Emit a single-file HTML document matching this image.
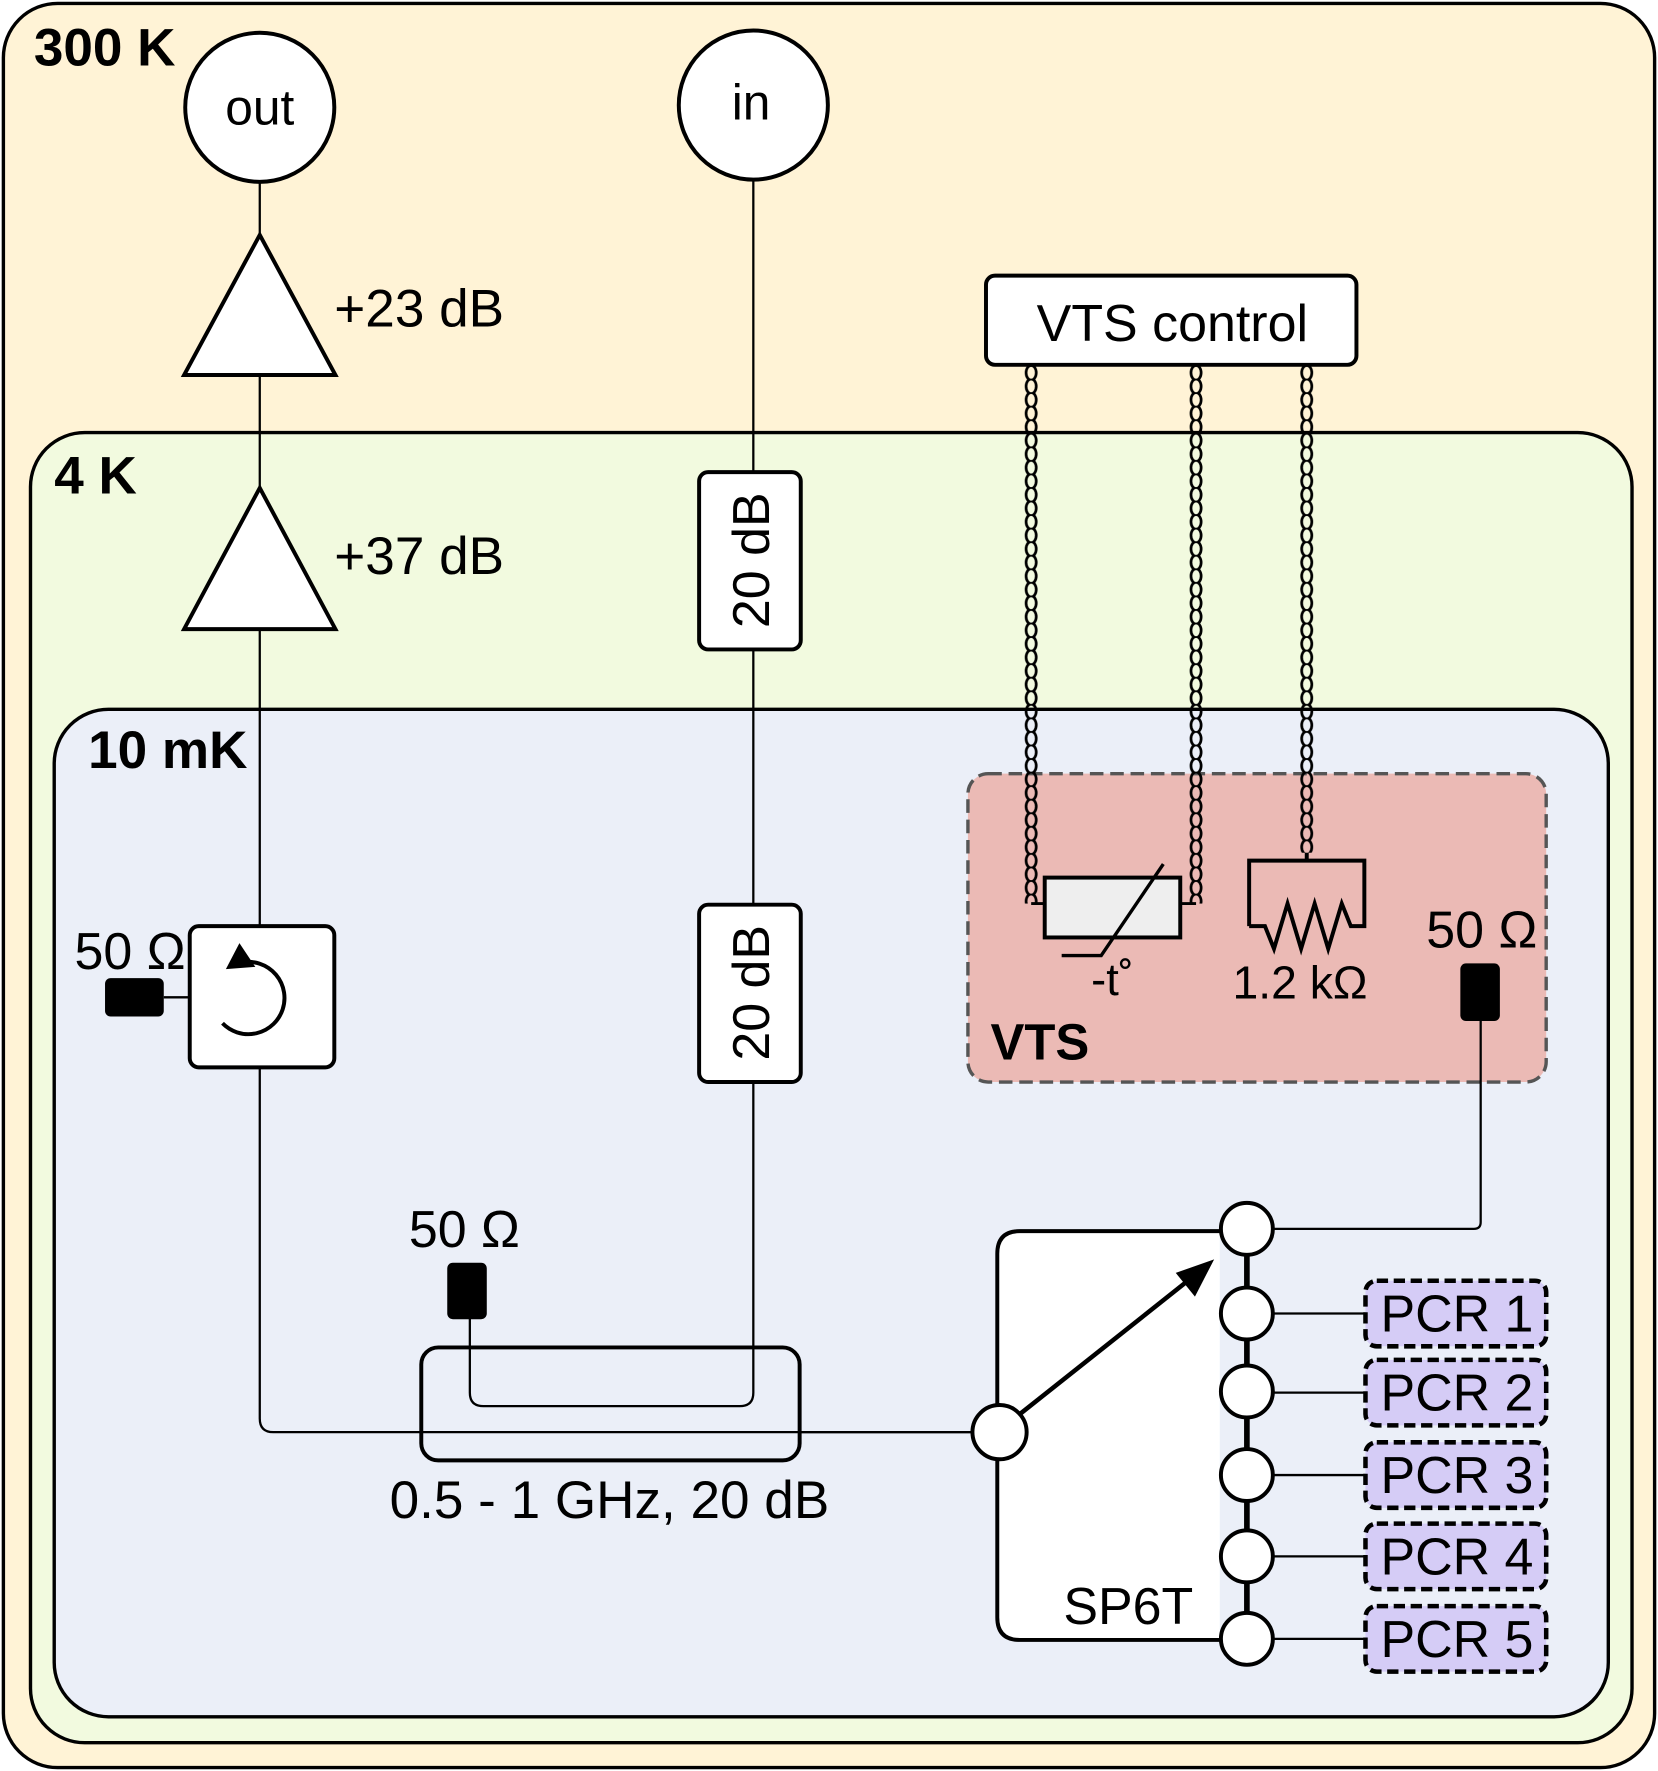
<!DOCTYPE html>
<html><head><meta charset="utf-8"><style>html,body{margin:0;padding:0;background:#fff}svg{display:block}</style></head><body>
<svg width="1658" height="1771" viewBox="0 0 1468 1568" xmlns="http://www.w3.org/2000/svg" font-family="Liberation Sans, sans-serif">
<defs>
<pattern id="tw1" x="906" y="0" width="14" height="12" patternUnits="userSpaceOnUse">
<ellipse cx="7" cy="6" rx="4.5" ry="6.5" fill="none" stroke="#000" stroke-width="2.4"/>
</pattern>
<pattern id="tw2" x="1052" y="0" width="14" height="12" patternUnits="userSpaceOnUse">
<ellipse cx="7" cy="6" rx="4.5" ry="6.5" fill="none" stroke="#000" stroke-width="2.4"/>
</pattern>
<pattern id="tw3" x="1150" y="0" width="14" height="12" patternUnits="userSpaceOnUse">
<ellipse cx="7" cy="6" rx="4.5" ry="6.5" fill="none" stroke="#000" stroke-width="2.4"/>
</pattern>
</defs>
<rect x="3" y="3" width="1462" height="1562" rx="48" fill="#FFF3D6" stroke="#000" stroke-width="3"/>
<rect x="27" y="383" width="1418" height="1160" rx="48" fill="#F2FADF" stroke="#000" stroke-width="3"/>
<rect x="48" y="628" width="1376" height="892" rx="48" fill="#EBEFF8" stroke="#000" stroke-width="3"/>
<g font-weight="bold" font-size="47">
<text x="30" y="58">300 K</text><text x="48" y="437">4 K</text><text x="78" y="680">10 mK</text>
</g>
<path d="M230 161 V1256 Q230 1268 242 1268 H862" fill="none" stroke="#000" stroke-width="2"/>
<circle cx="230" cy="95" r="66" fill="#fff" stroke="#000" stroke-width="3.5"/>
<text x="230" y="110" font-size="44" text-anchor="middle">out</text>
<polygon points="230,208 297,332 163,332" fill="#fff" stroke="#000" stroke-width="3.5"/>
<polygon points="230,432 297,557 163,557" fill="#fff" stroke="#000" stroke-width="3.5"/>
<text x="296" y="289" font-size="47">+23 dB</text>
<text x="296" y="508" font-size="47">+37 dB</text>
<line x1="145" y1="883" x2="168" y2="883" stroke="#000" stroke-width="2"/>
<rect x="93" y="866" width="52" height="34" rx="5" fill="#000"/>
<text x="66" y="858" font-size="46">50 Ω</text>
<rect x="168" y="820" width="128" height="125" rx="8" fill="#fff" stroke="#000" stroke-width="3.5"/>
<path d="M215 852 A32 32 0 1 1 197 906" fill="none" stroke="#000" stroke-width="3.5"/>
<polygon points="200,858 212,835 226,856" fill="#000"/>
<path d="M667 159 V1233 Q667 1245 655 1245 H428 Q416 1245 416 1233 V1165" fill="none" stroke="#000" stroke-width="2"/>
<circle cx="667" cy="93" r="66" fill="#fff" stroke="#000" stroke-width="3.5"/>
<text x="665" y="106" font-size="44" text-anchor="middle">in</text>
<rect x="619" y="418" width="90" height="157" rx="8" fill="#fff" stroke="#000" stroke-width="3.5"/>
<text transform="translate(681,496) rotate(-90)" font-size="46" text-anchor="middle">20 dB</text>
<rect x="619" y="801" width="90" height="157" rx="8" fill="#fff" stroke="#000" stroke-width="3.5"/>
<text transform="translate(681,879) rotate(-90)" font-size="46" text-anchor="middle">20 dB</text>
<rect x="373" y="1193" width="335" height="100" rx="15" fill="none" stroke="#000" stroke-width="3.5"/>
<rect x="396" y="1118" width="35" height="50" rx="5" fill="#000"/>
<text x="362" y="1104" font-size="46">50 Ω</text>
<text x="345" y="1344" font-size="47">0.5 - 1 GHz, 20 dB</text>
<rect x="857" y="685" width="512" height="273" rx="18" fill="#EBBAB5" stroke="#555" stroke-width="3" stroke-dasharray="12,6"/>
<rect x="906" y="323" width="14" height="477" fill="url(#tw1)"/>
<rect x="1052" y="323" width="14" height="477" fill="url(#tw2)"/>
<rect x="1150" y="323" width="14" height="432" fill="url(#tw3)"/>
<rect x="873" y="244" width="328" height="79" rx="8" fill="#fff" stroke="#000" stroke-width="3.5"/>
<text x="1038" y="302" font-size="46" text-anchor="middle">VTS control</text>
<path d="M913 800 H925 M1045 800 H1059" stroke="#000" stroke-width="2.5"/>
<rect x="925" y="777" width="120" height="53" fill="#EEE" stroke="#000" stroke-width="3.5"/>
<path d="M940 846 H975 L1030 765" fill="none" stroke="#000" stroke-width="3"/>
<text x="985" y="881" font-size="40" text-anchor="middle">-t˚</text>
<path d="M1157 755 V762 M1106 820 V762 H1208 V820 H1196 L1188 800 L1176 840 L1164 800 L1152 840 L1140 800 L1128 840 L1120 820 H1106" fill="none" stroke="#000" stroke-width="3.5"/>
<text x="1151" y="884" font-size="41" text-anchor="middle">1.2 kΩ</text>
<text x="1312" y="839" font-size="46" text-anchor="middle">50 Ω</text>
<rect x="1293" y="853" width="35" height="51" rx="5" fill="#000"/>
<path d="M1311 900 V1082 Q1311 1088 1305 1088 H1104" fill="none" stroke="#000" stroke-width="2"/>
<text x="877" y="938" font-size="45" font-weight="bold">VTS</text>
<path d="M1080 1090 H903 Q883 1090 883 1110 V1432 Q883 1452 903 1452 H1080" fill="#fff" stroke="#000" stroke-width="3.5"/>
<line x1="708" y1="1268" x2="862" y2="1268" stroke="#000" stroke-width="2"/>
<line x1="1104" y1="1088" x2="1104" y2="1451" stroke="#000" stroke-width="5"/>
<line x1="903" y1="1252" x2="1058" y2="1129" stroke="#000" stroke-width="4"/>
<polygon points="1075,1115 1041,1127 1058,1148" fill="#000"/>
<text x="999" y="1438" font-size="46" text-anchor="middle">SP6T</text>
<g stroke="#000" stroke-width="2">
<line x1="1104" y1="1163" x2="1209" y2="1163"/><line x1="1104" y1="1233" x2="1209" y2="1233"/>
<line x1="1104" y1="1306" x2="1209" y2="1306"/><line x1="1104" y1="1378" x2="1209" y2="1378"/>
<line x1="1104" y1="1451" x2="1209" y2="1451"/>
</g>
<g fill="#fff" stroke="#000" stroke-width="3.5">
<circle cx="1104" cy="1088" r="23"/><circle cx="1104" cy="1163" r="23"/><circle cx="1104" cy="1232" r="23"/>
<circle cx="1104" cy="1306" r="23"/><circle cx="1104" cy="1378" r="23"/><circle cx="1104" cy="1451" r="23"/>
<circle cx="885" cy="1268" r="24"/>
</g>
<g fill="#D5CCF6" stroke="#000" stroke-width="4" stroke-dasharray="10,5">
<rect x="1209" y="1134" width="160" height="58" rx="10"/><rect x="1209" y="1204" width="160" height="58" rx="10"/>
<rect x="1209" y="1277" width="160" height="58" rx="10"/><rect x="1209" y="1349" width="160" height="58" rx="10"/>
<rect x="1209" y="1422" width="160" height="58" rx="10"/>
</g>
<g font-size="46" text-anchor="middle">
<text x="1290" y="1179">PCR 1</text><text x="1290" y="1249">PCR 2</text><text x="1290" y="1322">PCR 3</text>
<text x="1290" y="1394">PCR 4</text><text x="1290" y="1467">PCR 5</text>
</g>
</svg>
</body></html>
